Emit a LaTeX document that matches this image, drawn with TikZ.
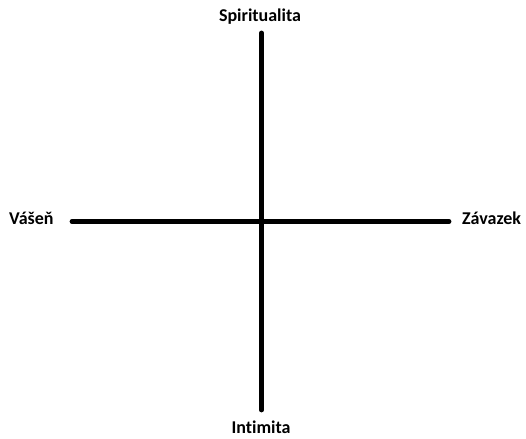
\documentclass[tikz,border=0pt]{standalone}
\usepackage{fontspec}
\setmainfont{Carlito}[Ligatures=NoCommon]
\begin{document}
\begin{tikzpicture}[x=1pt,y=1pt,
  axis/.style={line width=4.8pt,line cap=round,black},
  lbl/.style={font=\bfseries\fontsize{18}{20}\selectfont,inner sep=0pt,text=black}]
\useasboundingbox (0,0) rectangle (526,438);
\coordinate (top) at (261.5,405);
\coordinate (bot) at (261.5,28);
\coordinate (left) at (72,216.5);
\coordinate (right) at (449,216.5);
\draw[axis] (bot) -- (top);
\draw[axis] (left) -- (right);
\node[lbl,anchor=base] (s) at (260,416) {Spiritualita};
\node[lbl,anchor=base] (i) at (261,5) {Intimita};
\node[lbl,anchor=base west] (v) at (9,213) {Vášeň};
\node[lbl,anchor=base west] (z) at (462,213) {Závazek};
\end{tikzpicture}
\end{document}
